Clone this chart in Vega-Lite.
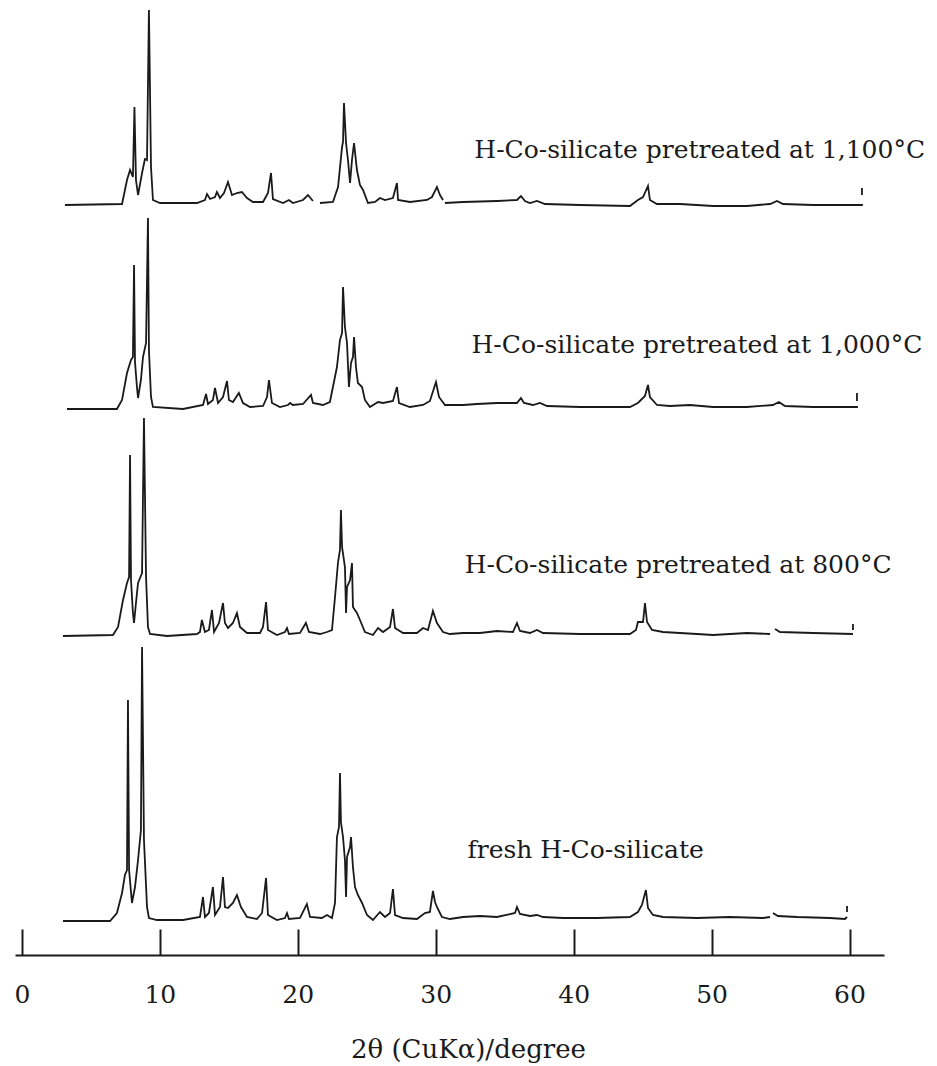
{
  "$schema": "https://vega.github.io/schema/vega-lite/v6.json",
  "width": 869,
  "height": 955,
  "autosize": {"type": "none"},
  "padding": {"left": 15, "top": 0, "right": 53, "bottom": 111},
  "background": "white",
  "config": {"view": {"stroke": null}},
  "datasets": {
    "xrd": [
      {"sample":"1,100","segment":"1100-a","two_theta":3.12,"intensity":750},
      {"sample":"1,100","segment":"1100-a","two_theta":7.26,"intensity":751},
      {"sample":"1,100","segment":"1100-a","two_theta":7.62,"intensity":775},
      {"sample":"1,100","segment":"1100-a","two_theta":7.84,"intensity":785},
      {"sample":"1,100","segment":"1100-a","two_theta":8.05,"intensity":778},
      {"sample":"1,100","segment":"1100-a","two_theta":8.16,"intensity":848},
      {"sample":"1,100","segment":"1100-a","two_theta":8.27,"intensity":775},
      {"sample":"1,100","segment":"1100-a","two_theta":8.42,"intensity":760},
      {"sample":"1,100","segment":"1100-a","two_theta":8.71,"intensity":782},
      {"sample":"1,100","segment":"1100-a","two_theta":8.92,"intensity":796},
      {"sample":"1,100","segment":"1100-a","two_theta":9.07,"intensity":795},
      {"sample":"1,100","segment":"1100-a","two_theta":9.21,"intensity":945},
      {"sample":"1,100","segment":"1100-a","two_theta":9.36,"intensity":788},
      {"sample":"1,100","segment":"1100-a","two_theta":9.50,"intensity":755},
      {"sample":"1,100","segment":"1100-a","two_theta":10.01,"intensity":752},
      {"sample":"1,100","segment":"1100-a","two_theta":12.69,"intensity":752},
      {"sample":"1,100","segment":"1100-a","two_theta":13.27,"intensity":755},
      {"sample":"1,100","segment":"1100-a","two_theta":13.42,"intensity":761},
      {"sample":"1,100","segment":"1100-a","two_theta":13.64,"intensity":756},
      {"sample":"1,100","segment":"1100-a","two_theta":14.00,"intensity":758},
      {"sample":"1,100","segment":"1100-a","two_theta":14.14,"intensity":763},
      {"sample":"1,100","segment":"1100-a","two_theta":14.36,"intensity":757},
      {"sample":"1,100","segment":"1100-a","two_theta":14.65,"intensity":762},
      {"sample":"1,100","segment":"1100-a","two_theta":14.94,"intensity":773},
      {"sample":"1,100","segment":"1100-a","two_theta":15.23,"intensity":760},
      {"sample":"1,100","segment":"1100-a","two_theta":15.59,"intensity":762},
      {"sample":"1,100","segment":"1100-a","two_theta":15.95,"intensity":763},
      {"sample":"1,100","segment":"1100-a","two_theta":16.32,"intensity":757},
      {"sample":"1,100","segment":"1100-a","two_theta":16.75,"intensity":753},
      {"sample":"1,100","segment":"1100-a","two_theta":17.48,"intensity":753},
      {"sample":"1,100","segment":"1100-a","two_theta":17.84,"intensity":762},
      {"sample":"1,100","segment":"1100-a","two_theta":18.06,"intensity":782},
      {"sample":"1,100","segment":"1100-a","two_theta":18.20,"intensity":756},
      {"sample":"1,100","segment":"1100-a","two_theta":18.93,"intensity":752},
      {"sample":"1,100","segment":"1100-a","two_theta":19.36,"intensity":755},
      {"sample":"1,100","segment":"1100-a","two_theta":19.65,"intensity":752},
      {"sample":"1,100","segment":"1100-a","two_theta":20.38,"intensity":755},
      {"sample":"1,100","segment":"1100-a","two_theta":20.74,"intensity":760},
      {"sample":"1,100","segment":"1100-a","two_theta":21.10,"intensity":754},
      {"sample":"1,100","segment":"1100-b","two_theta":21.61,"intensity":752},
      {"sample":"1,100","segment":"1100-b","two_theta":22.55,"intensity":753},
      {"sample":"1,100","segment":"1100-b","two_theta":22.92,"intensity":768},
      {"sample":"1,100","segment":"1100-b","two_theta":23.21,"intensity":808},
      {"sample":"1,100","segment":"1100-b","two_theta":23.28,"intensity":813},
      {"sample":"1,100","segment":"1100-b","two_theta":23.35,"intensity":852},
      {"sample":"1,100","segment":"1100-b","two_theta":23.50,"intensity":812},
      {"sample":"1,100","segment":"1100-b","two_theta":23.64,"intensity":795},
      {"sample":"1,100","segment":"1100-b","two_theta":23.79,"intensity":772},
      {"sample":"1,100","segment":"1100-b","two_theta":23.93,"intensity":795},
      {"sample":"1,100","segment":"1100-b","two_theta":24.08,"intensity":812},
      {"sample":"1,100","segment":"1100-b","two_theta":24.29,"intensity":785},
      {"sample":"1,100","segment":"1100-b","two_theta":24.51,"intensity":770},
      {"sample":"1,100","segment":"1100-b","two_theta":24.73,"intensity":765},
      {"sample":"1,100","segment":"1100-b","two_theta":25.09,"intensity":752},
      {"sample":"1,100","segment":"1100-b","two_theta":25.60,"intensity":753},
      {"sample":"1,100","segment":"1100-b","two_theta":25.96,"intensity":757},
      {"sample":"1,100","segment":"1100-b","two_theta":26.32,"intensity":755},
      {"sample":"1,100","segment":"1100-b","two_theta":26.90,"intensity":757},
      {"sample":"1,100","segment":"1100-b","two_theta":27.19,"intensity":772},
      {"sample":"1,100","segment":"1100-b","two_theta":27.27,"intensity":755},
      {"sample":"1,100","segment":"1100-b","two_theta":28.13,"intensity":753},
      {"sample":"1,100","segment":"1100-b","two_theta":29.37,"intensity":755},
      {"sample":"1,100","segment":"1100-b","two_theta":29.73,"intensity":758},
      {"sample":"1,100","segment":"1100-b","two_theta":30.09,"intensity":768},
      {"sample":"1,100","segment":"1100-b","two_theta":30.31,"intensity":760},
      {"sample":"1,100","segment":"1100-b","two_theta":30.53,"intensity":755},
      {"sample":"1,100","segment":"1100-c","two_theta":30.67,"intensity":752},
      {"sample":"1,100","segment":"1100-c","two_theta":31.98,"intensity":753},
      {"sample":"1,100","segment":"1100-c","two_theta":34.44,"intensity":754},
      {"sample":"1,100","segment":"1100-c","two_theta":35.89,"intensity":755},
      {"sample":"1,100","segment":"1100-c","two_theta":36.18,"intensity":759},
      {"sample":"1,100","segment":"1100-c","two_theta":36.47,"intensity":754},
      {"sample":"1,100","segment":"1100-c","two_theta":36.83,"intensity":752},
      {"sample":"1,100","segment":"1100-c","two_theta":37.34,"intensity":754},
      {"sample":"1,100","segment":"1100-c","two_theta":37.92,"intensity":751},
      {"sample":"1,100","segment":"1100-c","two_theta":40.46,"intensity":750},
      {"sample":"1,100","segment":"1100-c","two_theta":44.08,"intensity":749},
      {"sample":"1,100","segment":"1100-c","two_theta":44.66,"intensity":755},
      {"sample":"1,100","segment":"1100-c","two_theta":45.03,"intensity":758},
      {"sample":"1,100","segment":"1100-c","two_theta":45.39,"intensity":769},
      {"sample":"1,100","segment":"1100-c","two_theta":45.53,"intensity":755},
      {"sample":"1,100","segment":"1100-c","two_theta":46.04,"intensity":751},
      {"sample":"1,100","segment":"1100-c","two_theta":47.71,"intensity":751},
      {"sample":"1,100","segment":"1100-c","two_theta":50.10,"intensity":749},
      {"sample":"1,100","segment":"1100-c","two_theta":52.57,"intensity":749},
      {"sample":"1,100","segment":"1100-c","two_theta":54.24,"intensity":751},
      {"sample":"1,100","segment":"1100-c","two_theta":54.74,"intensity":754},
      {"sample":"1,100","segment":"1100-c","two_theta":55.18,"intensity":751},
      {"sample":"1,100","segment":"1100-c","two_theta":57.35,"intensity":750},
      {"sample":"1,100","segment":"1100-c","two_theta":60.97,"intensity":750},
      {"sample":"1,100","segment":"1100-m","two_theta":60.90,"intensity":760},
      {"sample":"1,100","segment":"1100-m","two_theta":60.90,"intensity":767},

      {"sample":"1,000","segment":"1000-a","two_theta":3.27,"intensity":546},
      {"sample":"1,000","segment":"1000-a","two_theta":6.89,"intensity":546},
      {"sample":"1,000","segment":"1000-a","two_theta":7.26,"intensity":555},
      {"sample":"1,000","segment":"1000-a","two_theta":7.62,"intensity":582},
      {"sample":"1,000","segment":"1000-a","two_theta":7.91,"intensity":595},
      {"sample":"1,000","segment":"1000-a","two_theta":8.05,"intensity":598},
      {"sample":"1,000","segment":"1000-a","two_theta":8.13,"intensity":690},
      {"sample":"1,000","segment":"1000-a","two_theta":8.20,"intensity":593},
      {"sample":"1,000","segment":"1000-a","two_theta":8.34,"intensity":568},
      {"sample":"1,000","segment":"1000-a","two_theta":8.42,"intensity":557},
      {"sample":"1,000","segment":"1000-a","two_theta":8.63,"intensity":575},
      {"sample":"1,000","segment":"1000-a","two_theta":8.78,"intensity":598},
      {"sample":"1,000","segment":"1000-a","two_theta":9.00,"intensity":612},
      {"sample":"1,000","segment":"1000-a","two_theta":9.14,"intensity":737},
      {"sample":"1,000","segment":"1000-a","two_theta":9.21,"intensity":605},
      {"sample":"1,000","segment":"1000-a","two_theta":9.36,"intensity":558},
      {"sample":"1,000","segment":"1000-a","two_theta":9.50,"intensity":548},
      {"sample":"1,000","segment":"1000-a","two_theta":11.68,"intensity":546},
      {"sample":"1,000","segment":"1000-a","two_theta":13.13,"intensity":550},
      {"sample":"1,000","segment":"1000-a","two_theta":13.35,"intensity":561},
      {"sample":"1,000","segment":"1000-a","two_theta":13.49,"intensity":551},
      {"sample":"1,000","segment":"1000-a","two_theta":13.85,"intensity":555},
      {"sample":"1,000","segment":"1000-a","two_theta":14.00,"intensity":567},
      {"sample":"1,000","segment":"1000-a","two_theta":14.22,"intensity":552},
      {"sample":"1,000","segment":"1000-a","two_theta":14.58,"intensity":558},
      {"sample":"1,000","segment":"1000-a","two_theta":14.87,"intensity":574},
      {"sample":"1,000","segment":"1000-a","two_theta":15.01,"intensity":555},
      {"sample":"1,000","segment":"1000-a","two_theta":15.30,"intensity":553},
      {"sample":"1,000","segment":"1000-a","two_theta":15.73,"intensity":562},
      {"sample":"1,000","segment":"1000-a","two_theta":16.03,"intensity":552},
      {"sample":"1,000","segment":"1000-a","two_theta":16.54,"intensity":548},
      {"sample":"1,000","segment":"1000-a","two_theta":17.48,"intensity":549},
      {"sample":"1,000","segment":"1000-a","two_theta":17.77,"intensity":558},
      {"sample":"1,000","segment":"1000-a","two_theta":17.91,"intensity":575},
      {"sample":"1,000","segment":"1000-a","two_theta":18.13,"intensity":552},
      {"sample":"1,000","segment":"1000-a","two_theta":18.71,"intensity":548},
      {"sample":"1,000","segment":"1000-a","two_theta":19.29,"intensity":550},
      {"sample":"1,000","segment":"1000-a","two_theta":19.44,"intensity":552},
      {"sample":"1,000","segment":"1000-a","two_theta":19.65,"intensity":550},
      {"sample":"1,000","segment":"1000-a","two_theta":20.38,"intensity":551},
      {"sample":"1,000","segment":"1000-a","two_theta":20.96,"intensity":560},
      {"sample":"1,000","segment":"1000-a","two_theta":21.10,"intensity":552},
      {"sample":"1,000","segment":"1000-a","two_theta":21.82,"intensity":550},
      {"sample":"1,000","segment":"1000-a","two_theta":22.33,"intensity":553},
      {"sample":"1,000","segment":"1000-a","two_theta":22.84,"intensity":588},
      {"sample":"1,000","segment":"1000-a","two_theta":23.06,"intensity":615},
      {"sample":"1,000","segment":"1000-a","two_theta":23.21,"intensity":622},
      {"sample":"1,000","segment":"1000-a","two_theta":23.28,"intensity":668},
      {"sample":"1,000","segment":"1000-a","two_theta":23.42,"intensity":628},
      {"sample":"1,000","segment":"1000-a","two_theta":23.57,"intensity":612},
      {"sample":"1,000","segment":"1000-a","two_theta":23.71,"intensity":568},
      {"sample":"1,000","segment":"1000-a","two_theta":23.86,"intensity":592},
      {"sample":"1,000","segment":"1000-a","two_theta":24.00,"intensity":598},
      {"sample":"1,000","segment":"1000-a","two_theta":24.08,"intensity":618},
      {"sample":"1,000","segment":"1000-a","two_theta":24.22,"intensity":588},
      {"sample":"1,000","segment":"1000-a","two_theta":24.36,"intensity":572},
      {"sample":"1,000","segment":"1000-a","two_theta":24.66,"intensity":568},
      {"sample":"1,000","segment":"1000-a","two_theta":24.87,"intensity":555},
      {"sample":"1,000","segment":"1000-a","two_theta":25.23,"intensity":548},
      {"sample":"1,000","segment":"1000-a","two_theta":25.82,"intensity":553},
      {"sample":"1,000","segment":"1000-a","two_theta":26.18,"intensity":552},
      {"sample":"1,000","segment":"1000-a","two_theta":26.90,"intensity":554},
      {"sample":"1,000","segment":"1000-a","two_theta":27.19,"intensity":568},
      {"sample":"1,000","segment":"1000-a","two_theta":27.34,"intensity":552},
      {"sample":"1,000","segment":"1000-a","two_theta":28.13,"intensity":548},
      {"sample":"1,000","segment":"1000-a","two_theta":29.08,"intensity":550},
      {"sample":"1,000","segment":"1000-a","two_theta":29.58,"intensity":554},
      {"sample":"1,000","segment":"1000-a","two_theta":30.02,"intensity":573},
      {"sample":"1,000","segment":"1000-a","two_theta":30.24,"intensity":558},
      {"sample":"1,000","segment":"1000-a","two_theta":30.67,"intensity":550},
      {"sample":"1,000","segment":"1000-a","two_theta":31.98,"intensity":550},
      {"sample":"1,000","segment":"1000-a","two_theta":32.99,"intensity":551},
      {"sample":"1,000","segment":"1000-a","two_theta":34.44,"intensity":552},
      {"sample":"1,000","segment":"1000-a","two_theta":35.89,"intensity":552},
      {"sample":"1,000","segment":"1000-a","two_theta":36.18,"intensity":557},
      {"sample":"1,000","segment":"1000-a","two_theta":36.40,"intensity":552},
      {"sample":"1,000","segment":"1000-a","two_theta":37.05,"intensity":550},
      {"sample":"1,000","segment":"1000-a","two_theta":37.56,"intensity":552},
      {"sample":"1,000","segment":"1000-a","two_theta":38.07,"intensity":549},
      {"sample":"1,000","segment":"1000-a","two_theta":40.46,"intensity":548},
      {"sample":"1,000","segment":"1000-a","two_theta":44.08,"intensity":548},
      {"sample":"1,000","segment":"1000-a","two_theta":44.66,"intensity":552},
      {"sample":"1,000","segment":"1000-a","two_theta":45.17,"intensity":559},
      {"sample":"1,000","segment":"1000-a","two_theta":45.39,"intensity":570},
      {"sample":"1,000","segment":"1000-a","two_theta":45.53,"intensity":558},
      {"sample":"1,000","segment":"1000-a","two_theta":46.04,"intensity":550},
      {"sample":"1,000","segment":"1000-a","two_theta":46.98,"intensity":549},
      {"sample":"1,000","segment":"1000-a","two_theta":48.43,"intensity":550},
      {"sample":"1,000","segment":"1000-a","two_theta":50.10,"intensity":548},
      {"sample":"1,000","segment":"1000-a","two_theta":52.57,"intensity":548},
      {"sample":"1,000","segment":"1000-a","two_theta":54.45,"intensity":550},
      {"sample":"1,000","segment":"1000-a","two_theta":54.88,"intensity":553},
      {"sample":"1,000","segment":"1000-a","two_theta":55.32,"intensity":549},
      {"sample":"1,000","segment":"1000-a","two_theta":57.35,"intensity":548},
      {"sample":"1,000","segment":"1000-a","two_theta":60.61,"intensity":548},
      {"sample":"1,000","segment":"1000-m","two_theta":60.54,"intensity":554},
      {"sample":"1,000","segment":"1000-m","two_theta":60.54,"intensity":562},

      {"sample":"800","segment":"800-a","two_theta":2.98,"intensity":319},
      {"sample":"800","segment":"800-a","two_theta":6.60,"intensity":320},
      {"sample":"800","segment":"800-a","two_theta":6.97,"intensity":328},
      {"sample":"800","segment":"800-a","two_theta":7.33,"intensity":355},
      {"sample":"800","segment":"800-a","two_theta":7.62,"intensity":372},
      {"sample":"800","segment":"800-a","two_theta":7.77,"intensity":378},
      {"sample":"800","segment":"800-a","two_theta":7.84,"intensity":500},
      {"sample":"800","segment":"800-a","two_theta":7.91,"intensity":375},
      {"sample":"800","segment":"800-a","two_theta":8.05,"intensity":342},
      {"sample":"800","segment":"800-a","two_theta":8.13,"intensity":332},
      {"sample":"800","segment":"800-a","two_theta":8.27,"intensity":352},
      {"sample":"800","segment":"800-a","two_theta":8.42,"intensity":372},
      {"sample":"800","segment":"800-a","two_theta":8.71,"intensity":382},
      {"sample":"800","segment":"800-a","two_theta":8.85,"intensity":537},
      {"sample":"800","segment":"800-a","two_theta":9.00,"intensity":378},
      {"sample":"800","segment":"800-a","two_theta":9.14,"intensity":328},
      {"sample":"800","segment":"800-a","two_theta":9.29,"intensity":321},
      {"sample":"800","segment":"800-a","two_theta":10.52,"intensity":319},
      {"sample":"800","segment":"800-a","two_theta":12.69,"intensity":321},
      {"sample":"800","segment":"800-a","two_theta":12.91,"intensity":323},
      {"sample":"800","segment":"800-a","two_theta":13.05,"intensity":335},
      {"sample":"800","segment":"800-a","two_theta":13.27,"intensity":323},
      {"sample":"800","segment":"800-a","two_theta":13.56,"intensity":325},
      {"sample":"800","segment":"800-a","two_theta":13.78,"intensity":345},
      {"sample":"800","segment":"800-a","two_theta":13.93,"intensity":323},
      {"sample":"800","segment":"800-a","two_theta":14.29,"intensity":332},
      {"sample":"800","segment":"800-a","two_theta":14.58,"intensity":352},
      {"sample":"800","segment":"800-a","two_theta":14.72,"intensity":332},
      {"sample":"800","segment":"800-a","two_theta":14.94,"intensity":327},
      {"sample":"800","segment":"800-a","two_theta":15.30,"intensity":332},
      {"sample":"800","segment":"800-a","two_theta":15.59,"intensity":342},
      {"sample":"800","segment":"800-a","two_theta":15.81,"intensity":328},
      {"sample":"800","segment":"800-a","two_theta":16.32,"intensity":322},
      {"sample":"800","segment":"800-a","two_theta":17.26,"intensity":322},
      {"sample":"800","segment":"800-a","two_theta":17.48,"intensity":328},
      {"sample":"800","segment":"800-a","two_theta":17.70,"intensity":353},
      {"sample":"800","segment":"800-a","two_theta":17.84,"intensity":325},
      {"sample":"800","segment":"800-a","two_theta":18.49,"intensity":320},
      {"sample":"800","segment":"800-a","two_theta":19.07,"intensity":323},
      {"sample":"800","segment":"800-a","two_theta":19.22,"intensity":327},
      {"sample":"800","segment":"800-a","two_theta":19.36,"intensity":321},
      {"sample":"800","segment":"800-a","two_theta":20.16,"intensity":322},
      {"sample":"800","segment":"800-a","two_theta":20.59,"intensity":332},
      {"sample":"800","segment":"800-a","two_theta":20.81,"intensity":323},
      {"sample":"800","segment":"800-a","two_theta":21.61,"intensity":321},
      {"sample":"800","segment":"800-a","two_theta":22.12,"intensity":323},
      {"sample":"800","segment":"800-a","two_theta":22.48,"intensity":325},
      {"sample":"800","segment":"800-a","two_theta":22.70,"intensity":358},
      {"sample":"800","segment":"800-a","two_theta":22.92,"intensity":393},
      {"sample":"800","segment":"800-a","two_theta":23.06,"intensity":405},
      {"sample":"800","segment":"800-a","two_theta":23.13,"intensity":445},
      {"sample":"800","segment":"800-a","two_theta":23.21,"intensity":408},
      {"sample":"800","segment":"800-a","two_theta":23.42,"intensity":388},
      {"sample":"800","segment":"800-a","two_theta":23.50,"intensity":342},
      {"sample":"800","segment":"800-a","two_theta":23.57,"intensity":368},
      {"sample":"800","segment":"800-a","two_theta":23.79,"intensity":375},
      {"sample":"800","segment":"800-a","two_theta":23.93,"intensity":392},
      {"sample":"800","segment":"800-a","two_theta":24.00,"intensity":348},
      {"sample":"800","segment":"800-a","two_theta":24.29,"intensity":342},
      {"sample":"800","segment":"800-a","two_theta":24.51,"intensity":335},
      {"sample":"800","segment":"800-a","two_theta":24.87,"intensity":323},
      {"sample":"800","segment":"800-a","two_theta":25.45,"intensity":320},
      {"sample":"800","segment":"800-a","two_theta":25.82,"intensity":327},
      {"sample":"800","segment":"800-a","two_theta":26.18,"intensity":323},
      {"sample":"800","segment":"800-a","two_theta":26.69,"intensity":328},
      {"sample":"800","segment":"800-a","two_theta":26.90,"intensity":346},
      {"sample":"800","segment":"800-a","two_theta":27.05,"intensity":327},
      {"sample":"800","segment":"800-a","two_theta":27.63,"intensity":322},
      {"sample":"800","segment":"800-a","two_theta":28.64,"intensity":322},
      {"sample":"800","segment":"800-a","two_theta":29.08,"intensity":327},
      {"sample":"800","segment":"800-a","two_theta":29.44,"intensity":325},
      {"sample":"800","segment":"800-a","two_theta":29.80,"intensity":344},
      {"sample":"800","segment":"800-a","two_theta":30.09,"intensity":332},
      {"sample":"800","segment":"800-a","two_theta":30.53,"intensity":323},
      {"sample":"800","segment":"800-a","two_theta":31.03,"intensity":321},
      {"sample":"800","segment":"800-a","two_theta":31.98,"intensity":322},
      {"sample":"800","segment":"800-a","two_theta":33.21,"intensity":322},
      {"sample":"800","segment":"800-a","two_theta":34.44,"intensity":324},
      {"sample":"800","segment":"800-a","two_theta":35.60,"intensity":323},
      {"sample":"800","segment":"800-a","two_theta":35.89,"intensity":332},
      {"sample":"800","segment":"800-a","two_theta":36.11,"intensity":324},
      {"sample":"800","segment":"800-a","two_theta":36.83,"intensity":322},
      {"sample":"800","segment":"800-a","two_theta":37.34,"intensity":325},
      {"sample":"800","segment":"800-a","two_theta":37.78,"intensity":322},
      {"sample":"800","segment":"800-a","two_theta":40.46,"intensity":321},
      {"sample":"800","segment":"800-a","two_theta":44.08,"intensity":321},
      {"sample":"800","segment":"800-a","two_theta":44.52,"intensity":325},
      {"sample":"800","segment":"800-a","two_theta":44.66,"intensity":333},
      {"sample":"800","segment":"800-a","two_theta":45.03,"intensity":333},
      {"sample":"800","segment":"800-a","two_theta":45.17,"intensity":352},
      {"sample":"800","segment":"800-a","two_theta":45.32,"intensity":333},
      {"sample":"800","segment":"800-a","two_theta":45.68,"intensity":325},
      {"sample":"800","segment":"800-a","two_theta":46.48,"intensity":323},
      {"sample":"800","segment":"800-a","two_theta":48.94,"intensity":321},
      {"sample":"800","segment":"800-a","two_theta":50.10,"intensity":320},
      {"sample":"800","segment":"800-a","two_theta":52.57,"intensity":322},
      {"sample":"800","segment":"800-a","two_theta":54.24,"intensity":321},
      {"sample":"800","segment":"800-b","two_theta":54.60,"intensity":326},
      {"sample":"800","segment":"800-b","two_theta":54.96,"intensity":323},
      {"sample":"800","segment":"800-b","two_theta":57.35,"intensity":322},
      {"sample":"800","segment":"800-b","two_theta":60.25,"intensity":321},
      {"sample":"800","segment":"800-m","two_theta":60.25,"intensity":325},
      {"sample":"800","segment":"800-m","two_theta":60.25,"intensity":331},

      {"sample":"fresh","segment":"fresh-a","two_theta":2.98,"intensity":34},
      {"sample":"fresh","segment":"fresh-a","two_theta":6.39,"intensity":34},
      {"sample":"fresh","segment":"fresh-a","two_theta":6.89,"intensity":42},
      {"sample":"fresh","segment":"fresh-a","two_theta":7.26,"intensity":62},
      {"sample":"fresh","segment":"fresh-a","two_theta":7.47,"intensity":80},
      {"sample":"fresh","segment":"fresh-a","two_theta":7.62,"intensity":85},
      {"sample":"fresh","segment":"fresh-a","two_theta":7.69,"intensity":255},
      {"sample":"fresh","segment":"fresh-a","two_theta":7.77,"intensity":85},
      {"sample":"fresh","segment":"fresh-a","two_theta":7.98,"intensity":52},
      {"sample":"fresh","segment":"fresh-a","two_theta":8.20,"intensity":68},
      {"sample":"fresh","segment":"fresh-a","two_theta":8.42,"intensity":95},
      {"sample":"fresh","segment":"fresh-a","two_theta":8.63,"intensity":125},
      {"sample":"fresh","segment":"fresh-a","two_theta":8.71,"intensity":308},
      {"sample":"fresh","segment":"fresh-a","two_theta":8.85,"intensity":115},
      {"sample":"fresh","segment":"fresh-a","two_theta":9.07,"intensity":48},
      {"sample":"fresh","segment":"fresh-a","two_theta":9.21,"intensity":37},
      {"sample":"fresh","segment":"fresh-a","two_theta":9.79,"intensity":35},
      {"sample":"fresh","segment":"fresh-a","two_theta":11.68,"intensity":35},
      {"sample":"fresh","segment":"fresh-a","two_theta":12.91,"intensity":38},
      {"sample":"fresh","segment":"fresh-a","two_theta":13.13,"intensity":58},
      {"sample":"fresh","segment":"fresh-a","two_theta":13.27,"intensity":38},
      {"sample":"fresh","segment":"fresh-a","two_theta":13.56,"intensity":42},
      {"sample":"fresh","segment":"fresh-a","two_theta":13.85,"intensity":68},
      {"sample":"fresh","segment":"fresh-a","two_theta":14.00,"intensity":40},
      {"sample":"fresh","segment":"fresh-a","two_theta":14.36,"intensity":48},
      {"sample":"fresh","segment":"fresh-a","two_theta":14.58,"intensity":78},
      {"sample":"fresh","segment":"fresh-a","two_theta":14.72,"intensity":48},
      {"sample":"fresh","segment":"fresh-a","two_theta":14.94,"intensity":47},
      {"sample":"fresh","segment":"fresh-a","two_theta":15.30,"intensity":52},
      {"sample":"fresh","segment":"fresh-a","two_theta":15.59,"intensity":60},
      {"sample":"fresh","segment":"fresh-a","two_theta":15.88,"intensity":48},
      {"sample":"fresh","segment":"fresh-a","two_theta":16.32,"intensity":38},
      {"sample":"fresh","segment":"fresh-a","two_theta":17.04,"intensity":36},
      {"sample":"fresh","segment":"fresh-a","two_theta":17.41,"intensity":42},
      {"sample":"fresh","segment":"fresh-a","two_theta":17.70,"intensity":77},
      {"sample":"fresh","segment":"fresh-a","two_theta":17.84,"intensity":40},
      {"sample":"fresh","segment":"fresh-a","two_theta":18.49,"intensity":35},
      {"sample":"fresh","segment":"fresh-a","two_theta":19.07,"intensity":37},
      {"sample":"fresh","segment":"fresh-a","two_theta":19.22,"intensity":42},
      {"sample":"fresh","segment":"fresh-a","two_theta":19.36,"intensity":36},
      {"sample":"fresh","segment":"fresh-a","two_theta":20.16,"intensity":37},
      {"sample":"fresh","segment":"fresh-a","two_theta":20.66,"intensity":51},
      {"sample":"fresh","segment":"fresh-a","two_theta":20.89,"intensity":38},
      {"sample":"fresh","segment":"fresh-a","two_theta":21.75,"intensity":37},
      {"sample":"fresh","segment":"fresh-a","two_theta":22.12,"intensity":40},
      {"sample":"fresh","segment":"fresh-a","two_theta":22.48,"intensity":37},
      {"sample":"fresh","segment":"fresh-a","two_theta":22.70,"intensity":52},
      {"sample":"fresh","segment":"fresh-a","two_theta":22.84,"intensity":118},
      {"sample":"fresh","segment":"fresh-a","two_theta":22.99,"intensity":128},
      {"sample":"fresh","segment":"fresh-a","two_theta":23.06,"intensity":182},
      {"sample":"fresh","segment":"fresh-a","two_theta":23.13,"intensity":133},
      {"sample":"fresh","segment":"fresh-a","two_theta":23.28,"intensity":118},
      {"sample":"fresh","segment":"fresh-a","two_theta":23.42,"intensity":95},
      {"sample":"fresh","segment":"fresh-a","two_theta":23.50,"intensity":58},
      {"sample":"fresh","segment":"fresh-a","two_theta":23.57,"intensity":98},
      {"sample":"fresh","segment":"fresh-a","two_theta":23.79,"intensity":108},
      {"sample":"fresh","segment":"fresh-a","two_theta":23.86,"intensity":118},
      {"sample":"fresh","segment":"fresh-a","two_theta":24.00,"intensity":88},
      {"sample":"fresh","segment":"fresh-a","two_theta":24.15,"intensity":68},
      {"sample":"fresh","segment":"fresh-a","two_theta":24.36,"intensity":60},
      {"sample":"fresh","segment":"fresh-a","two_theta":24.66,"intensity":52},
      {"sample":"fresh","segment":"fresh-a","two_theta":25.02,"intensity":40},
      {"sample":"fresh","segment":"fresh-a","two_theta":25.45,"intensity":35},
      {"sample":"fresh","segment":"fresh-a","two_theta":25.96,"intensity":43},
      {"sample":"fresh","segment":"fresh-a","two_theta":26.32,"intensity":38},
      {"sample":"fresh","segment":"fresh-a","two_theta":26.69,"intensity":42},
      {"sample":"fresh","segment":"fresh-a","two_theta":26.90,"intensity":66},
      {"sample":"fresh","segment":"fresh-a","two_theta":27.05,"intensity":40},
      {"sample":"fresh","segment":"fresh-a","two_theta":27.63,"intensity":37},
      {"sample":"fresh","segment":"fresh-a","two_theta":28.64,"intensity":36},
      {"sample":"fresh","segment":"fresh-a","two_theta":29.22,"intensity":42},
      {"sample":"fresh","segment":"fresh-a","two_theta":29.58,"intensity":43},
      {"sample":"fresh","segment":"fresh-a","two_theta":29.80,"intensity":64},
      {"sample":"fresh","segment":"fresh-a","two_theta":29.95,"intensity":53},
      {"sample":"fresh","segment":"fresh-a","two_theta":30.09,"intensity":48},
      {"sample":"fresh","segment":"fresh-a","two_theta":30.45,"intensity":38},
      {"sample":"fresh","segment":"fresh-a","two_theta":31.03,"intensity":36},
      {"sample":"fresh","segment":"fresh-a","two_theta":31.98,"intensity":38},
      {"sample":"fresh","segment":"fresh-a","two_theta":33.21,"intensity":39},
      {"sample":"fresh","segment":"fresh-a","two_theta":34.44,"intensity":38},
      {"sample":"fresh","segment":"fresh-a","two_theta":35.75,"intensity":42},
      {"sample":"fresh","segment":"fresh-a","two_theta":35.89,"intensity":48},
      {"sample":"fresh","segment":"fresh-a","two_theta":36.11,"intensity":41},
      {"sample":"fresh","segment":"fresh-a","two_theta":36.83,"intensity":39},
      {"sample":"fresh","segment":"fresh-a","two_theta":37.34,"intensity":40},
      {"sample":"fresh","segment":"fresh-a","two_theta":37.78,"intensity":38},
      {"sample":"fresh","segment":"fresh-a","two_theta":39.23,"intensity":37},
      {"sample":"fresh","segment":"fresh-a","two_theta":41.69,"intensity":37},
      {"sample":"fresh","segment":"fresh-a","two_theta":44.08,"intensity":38},
      {"sample":"fresh","segment":"fresh-a","two_theta":44.66,"intensity":43},
      {"sample":"fresh","segment":"fresh-a","two_theta":44.95,"intensity":50},
      {"sample":"fresh","segment":"fresh-a","two_theta":45.24,"intensity":65},
      {"sample":"fresh","segment":"fresh-a","two_theta":45.39,"intensity":47},
      {"sample":"fresh","segment":"fresh-a","two_theta":45.75,"intensity":40},
      {"sample":"fresh","segment":"fresh-a","two_theta":46.48,"intensity":38},
      {"sample":"fresh","segment":"fresh-a","two_theta":48.94,"intensity":37},
      {"sample":"fresh","segment":"fresh-a","two_theta":51.33,"intensity":38},
      {"sample":"fresh","segment":"fresh-a","two_theta":53.73,"intensity":37},
      {"sample":"fresh","segment":"fresh-a","two_theta":54.24,"intensity":38},
      {"sample":"fresh","segment":"fresh-b","two_theta":54.45,"intensity":42},
      {"sample":"fresh","segment":"fresh-b","two_theta":54.81,"intensity":39},
      {"sample":"fresh","segment":"fresh-b","two_theta":56.19,"intensity":38},
      {"sample":"fresh","segment":"fresh-b","two_theta":58.58,"intensity":37},
      {"sample":"fresh","segment":"fresh-b","two_theta":59.67,"intensity":36},
      {"sample":"fresh","segment":"fresh-b","two_theta":59.82,"intensity":38},
      {"sample":"fresh","segment":"fresh-m","two_theta":59.82,"intensity":43},
      {"sample":"fresh","segment":"fresh-m","two_theta":59.82,"intensity":49}
    ],
    "labels": [
      {"label":"H-Co-silicate pretreated at 1,100°C","two_theta":32.8,"intensity":805},
      {"label":"H-Co-silicate pretreated at 1,000°C","two_theta":32.6,"intensity":610},
      {"label":"H-Co-silicate pretreated at 800°C","two_theta":32.1,"intensity":390},
      {"label":"fresh H-Co-silicate","two_theta":32.3,"intensity":105}
    ]
  },
  "layer": [
    {
      "data": {"name": "xrd"},
      "mark": {"type": "line", "color": "#1a1a1a", "strokeWidth": 1.8, "interpolate": "linear"},
      "encoding": {
        "x": {
          "field": "two_theta", "type": "quantitative",
          "scale": {"domain": [-0.5, 62.5], "nice": false, "zero": false},
          "axis": {
            "values": [0, 10, 20, 30, 40, 50, 60],
            "title": "2θ (CuKα)/degree",
            "grid": false,
            "domainColor": "#1a1a1a", "domainWidth": 2,
            "tickColor": "#1a1a1a", "tickWidth": 2, "tickSize": -26,
            "labelFont": "DejaVu Serif", "labelFontSize": 25, "labelColor": "#1a1a1a",
            "labelPadding": 53, "labelFlush": false,
            "titleFont": "DejaVu Serif", "titleFontSize": 26, "titleFontWeight": "normal", "titleColor": "#1a1a1a",
            "titleX": 453, "titleY": 81, "titleBaseline": "top"
          }
        },
        "y": {
          "field": "intensity", "type": "quantitative",
          "scale": {"domain": [0, 955], "nice": false, "zero": false},
          "axis": null
        },
        "detail": {"field": "segment", "type": "nominal"}
      }
    },
    {
      "data": {"name": "labels"},
      "mark": {"type": "text", "align": "left", "baseline": "middle", "font": "DejaVu Serif", "fontSize": 25, "color": "#1a1a1a"},
      "encoding": {
        "x": {"field": "two_theta", "type": "quantitative"},
        "y": {"field": "intensity", "type": "quantitative"},
        "text": {"field": "label", "type": "nominal"}
      }
    }
  ]
}
